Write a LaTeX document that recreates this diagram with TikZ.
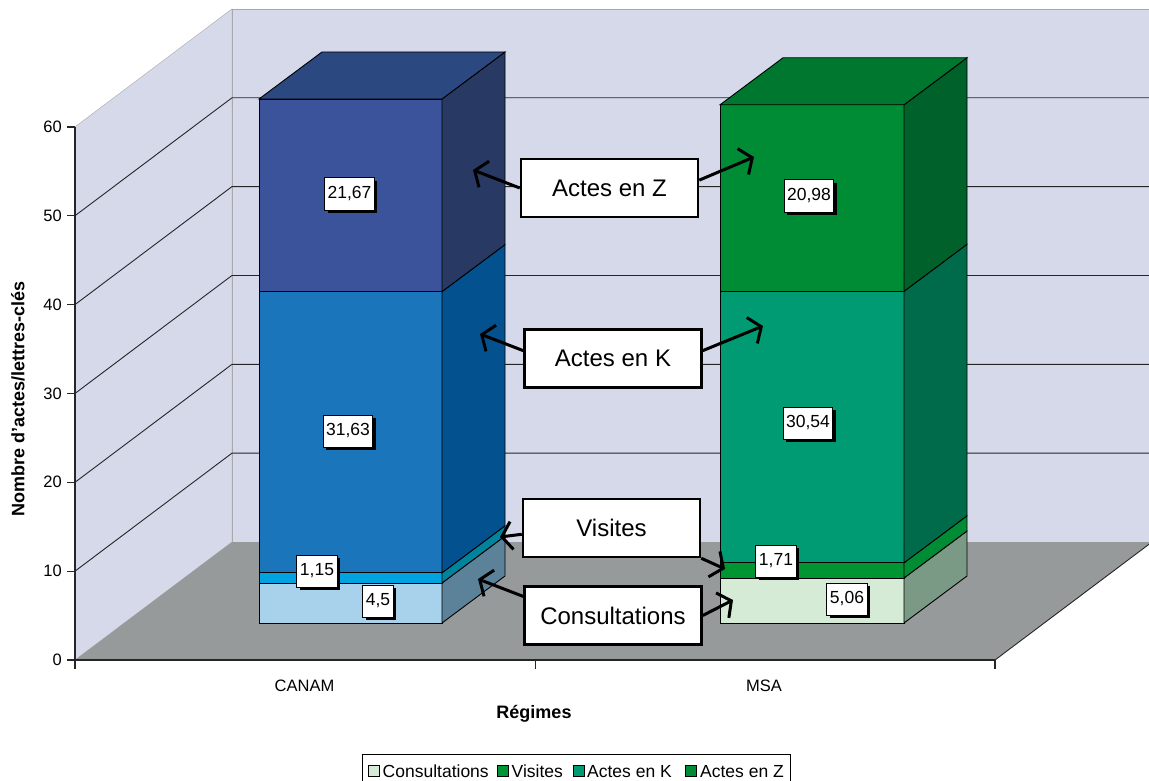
\documentclass[tikz,border=0pt]{standalone}
\usepackage{fontspec}
\setmainfont{Liberation Sans}
\usetikzlibrary{arrows.meta,shadows}

\definecolor{wallc}{HTML}{D6D9EA}
\definecolor{edgec}{HTML}{A8A8A8}
\definecolor{floorc}{HTML}{969A9B}
\definecolor{cconsf}{HTML}{A8D2EC}
\definecolor{cconss}{HTML}{5B8299}
\definecolor{cvisf}{HTML}{00A2E0}
\definecolor{cviss}{HTML}{00849E}
\definecolor{ckf}{HTML}{1A75BA}
\definecolor{cks}{HTML}{03528F}
\definecolor{czf}{HTML}{3A539B}
\definecolor{czs}{HTML}{283A64}
\definecolor{czt}{HTML}{2C4880}
\definecolor{mconsf}{HTML}{D6EBD6}
\definecolor{mconss}{HTML}{7B9A86}
\definecolor{mvisf}{HTML}{009432}
\definecolor{mviss}{HTML}{008C35}
\definecolor{mkf}{HTML}{009B72}
\definecolor{mks}{HTML}{006B4A}
\definecolor{mzf}{HTML}{008C35}
\definecolor{mzs}{HTML}{00612A}
\definecolor{mzt}{HTML}{00772E}

\def\dx{63}
\def\dy{47}
\def\wdx{157}
\def\wdy{118}
\def\ystep{88.85}
\def\yzero{660}

\newcommand{\barseg}[6]{%
  \filldraw[fill=#5] (#1,#3) rectangle (#2,#4);
  \filldraw[fill=#6] (#2,#3) -- ++(\dx,-\dy) -- (#2+\dx,#4-\dy) -- (#2,#4) -- cycle;}
\newcommand{\bartop}[4]{%
  \filldraw[fill=#4] (#1,#3) -- (#1+\dx,#3-\dy) -- (#2+\dx,#3-\dy) -- (#2,#3) -- cycle;}

\begin{document}
\begin{tikzpicture}[x=1pt,y=-1pt,
  gridline/.style={line width=0.9pt,black!85},
  axisline/.style={line width=1.3pt,black!85},
  calbox/.style={draw,fill=white,line width=2.5pt,minimum width=177pt,minimum height=58pt,font=\fontsize{24}{28}\selectfont},
  callarrow/.style={line width=3pt,-{Straight Barb[length=10pt,width=28pt]}},
  vallab/.style={draw,fill=white,line width=1pt,inner sep=3pt,minimum height=32pt,font=\fontsize{17.5}{19}\selectfont,drop shadow={shadow xshift=3pt,shadow yshift=-3pt,fill=black,opacity=1}},
  axlab/.style={font=\fontsize{16.5}{18}\selectfont},
  axtitle/.style={font=\bfseries\fontsize{18}{20}\selectfont},
  legsq/.style={draw,line width=0.8pt},
  legtxt/.style={anchor=base west,inner sep=0pt,font=\fontsize{17.5}{19}\selectfont}]
\useasboundingbox (0,0) rectangle (1149,781);

\filldraw[fill=wallc,draw=edgec] (75,\yzero) -- (75,\yzero-6*\ystep) -- ++(\wdx,-\wdy) -- (232,\yzero-\wdy) -- cycle;
\filldraw[fill=wallc,draw=edgec] (232,\yzero-\wdy) rectangle (1160,\yzero-6*\ystep-\wdy);
\fill[floorc] (75,\yzero) -- (995,\yzero) -- ++(\wdx,-\wdy) -- (232,\yzero-\wdy) -- cycle;
\draw[gridline] (995,\yzero) -- ++(\wdx,-\wdy);
\foreach \k in {1,...,5}
  \draw[gridline] (75,\yzero-\k*\ystep) -- ++(\wdx,-\wdy) -- (1160,\yzero-\k*\ystep-\wdy);

\begin{scope}[line width=0.9pt]
\barseg{259}{442}{623}{583}{cconsf}{cconss}
\barseg{259}{442}{583}{572.8}{cvisf}{cviss}
\barseg{259}{442}{572.8}{291.6}{ckf}{cks}
\barseg{259}{442}{291.6}{99}{czf}{czs}
\bartop{259}{442}{99}{czt}
\barseg{720}{904}{623}{578}{mconsf}{mconss}
\barseg{720}{904}{578}{562.8}{mvisf}{mviss}
\barseg{720}{904}{562.8}{291.3}{mkf}{mks}
\barseg{720}{904}{291.3}{104.8}{mzf}{mzs}
\bartop{720}{904}{104.8}{mzt}
\end{scope}

\node[vallab] (c4) at (349.5,194) {21,67};
\node[vallab] (c3) at (348,431) {31,63};
\node[vallab] (c2) at (317,571) {1,15};
\node[vallab] (c1) at (378,601) {4,5};
\node[vallab] (m4) at (809,196) {20,98};
\node[vallab] (m3) at (808,423) {30,54};
\node[vallab] (m2) at (776,561) {1,71};
\node[vallab] (m1) at (847,599) {5,06};

\node[calbox] (az) at (609.5,188) {Actes en Z};
\node[calbox] (ak) at (613,358.5) {Actes en K};
\node[calbox] (av) at (611.5,528) {Visites};
\node[calbox] (ac) at (613,615.5) {Consultations};

\coordinate (zl) at (473,170);
\coordinate (zr) at (754,157);
\coordinate (kl) at (480,334);
\coordinate (kr) at (763,326);
\coordinate (vl) at (500,537);
\coordinate (vr) at (725,569);
\coordinate (cl) at (478,579);
\coordinate (cr) at (733,600);
\draw[callarrow] (az.west) -- (zl);
\draw[callarrow] (az.5) -- (zr);
\draw[callarrow] (ak.175) -- (kl);
\draw[callarrow] (ak.5) -- (kr);
\draw[callarrow] (av.184) -- (vl);
\draw[callarrow] (av.south east) -- (vr);
\draw[callarrow] (ac.168) -- (cl);
\draw[callarrow] (ac.east) -- (cr);

\draw[axisline] (75,127) -- (75,669);
\draw[axisline] (75,\yzero) -- (995,\yzero);
\draw[axisline] (535.5,\yzero) -- ++(0,9);
\draw[axisline] (995,\yzero) -- ++(0,9);
\foreach \k [evaluate=\k as \v using int(10*\k)] in {0,...,6} {
  \draw[axisline] (67,\yzero-\k*\ystep) -- (75,\yzero-\k*\ystep);
  \node[axlab,anchor=east,inner sep=0pt] (tick\k) at (62,\yzero-\k*\ystep) {\v};
}
\node[axlab] (canam) at (304.5,686) {CANAM};
\node[axlab] (msa) at (764,686) {MSA};
\node[axtitle] (regimes) at (534,714) {Régimes};
\node[axtitle,rotate=90] (ytitle) at (18,399) {Nombre d'actes/lettres-clés};

\draw[line width=0.9pt,fill=white] (362,754) rectangle (790,800);
\foreach \c/\sx/\tx/\t/\n in {mconsf/368/382.5/Consultations/1,mvisf/497/511.5/Visites/2,mkf/573.5/587/Actes en K/3,mzf/685/700/Actes en Z/4} {
  \filldraw[legsq,fill=\c] (\sx,765.5) rectangle ++(11,11);
  \node[legtxt] (leg\n) at (\tx,777) {\t};
}
\end{tikzpicture}
\end{document}
